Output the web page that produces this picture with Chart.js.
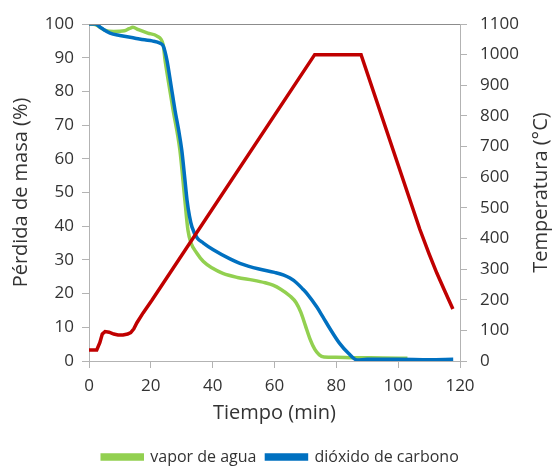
<!DOCTYPE html>
<html>
<head>
<meta charset="utf-8">
<script src="https://cdn.jsdelivr.net/npm/chart.js@4.4.0/dist/chart.umd.min.js"></script>
<style>
  html, body { margin: 0; padding: 0; background: #fff; }
  #wrap { width: 552px; height: 468px; }
</style>
</head>
<body>
<div id="wrap"><canvas id="chart" width="552" height="468"></canvas></div>
<script>
// vapor de agua (% masa)
const vaporTime = [0, 2, 5, 8, 11.5, 13, 14.2, 16, 19, 22, 24, 24.6, 25.5, 27.2, 29.4, 31, 32, 33, 34.9, 37, 40, 43.3, 48, 53, 57, 59.5, 62, 65, 67, 68.5, 70, 71.5, 73, 74.5, 76, 80, 85, 95, 103];
const vaporMass = [100, 99.8, 98.2, 97.8, 98, 98.6, 99, 98.3, 97.3, 96.4, 93.8, 89.3, 84, 74.5, 62.6, 47.8, 38.9, 35, 32, 29.5, 27.5, 26, 24.8, 24, 23.2, 22.5, 21.3, 19.3, 17.3, 14.5, 10.5, 6.5, 3.5, 1.8, 1.2, 1.1, 1, 0.9, 0.8];

// dióxido de carbono (% masa)
const co2Time = [0, 2, 4, 6.8, 10, 14.9, 18, 20.4, 23, 24, 25.2, 26.5, 27.8, 29, 30, 31, 31.7, 32.5, 33.3, 35, 37, 40.2, 45.6, 48.8, 55, 60, 63, 65, 67, 69.2, 70.5, 73.7, 75.7, 78, 81, 84, 86.7, 90, 100, 110, 117.8];
const co2Mass = [100, 100, 98.8, 97.3, 96.6, 95.8, 95.3, 95, 94.3, 93.5, 89.3, 82, 74.5, 68.5, 62.6, 54, 47.8, 43, 39.8, 36.5, 35, 33, 30.3, 29, 27.3, 26.3, 25.5, 24.6, 23.3, 21.3, 20, 16, 13, 9.5, 5.3, 2.2, 0.3, 0.5, 0.5, 0.4, 0.5];

// temperatura (°C)
const tempTime = [0, 2.5, 3.5, 4.3, 5.2, 6.5, 8, 9.4, 11, 12.5, 13.5, 14.5, 15.5, 17.5, 20.4, 73, 88, 104, 107, 110, 112.5, 115, 117.7];
const tempValue = [36, 36, 60, 88, 96, 94, 88, 85, 85, 88, 93, 105, 125, 157, 199, 1000, 1000, 520, 430, 350, 287, 230, 170];

const xTicks = [0, 20, 40, 60, 80, 100, 120];

const toPoints = (xs, ys) => xs.map((x, i) => ({ x: x, y: ys[i] }));

const font = 'Open Sans';
const textColor = '#333';
const axisColor = '#b3b3b3';
const rightTitle = 'Temperatura (°C)';

// linea superior del marco y titulo del eje derecho (leido de abajo hacia arriba)
const extras = {
  id: 'extras',
  afterDraw(chart) {
    const { ctx, chartArea } = chart;
    ctx.save();
    ctx.strokeStyle = '#8c8c8c';
    ctx.lineWidth = 1;
    ctx.beginPath();
    ctx.moveTo(chartArea.left, chartArea.top + 0.5);
    ctx.lineTo(chartArea.right, chartArea.top + 0.5);
    ctx.stroke();

    ctx.translate(541, (chartArea.top + chartArea.bottom) / 2);
    ctx.rotate(-Math.PI / 2);
    ctx.font = '20px "' + font + '"';
    ctx.fillStyle = textColor;
    ctx.textAlign = 'center';
    ctx.textBaseline = 'middle';
    ctx.fillText(rightTitle, 0, 0);
    ctx.restore();
  }
};

new Chart(document.getElementById('chart'), {
  type: 'line',
  data: {
    datasets: [
      {
        label: 'vapor de agua',
        data: toPoints(vaporTime, vaporMass),
        borderColor: '#92d050',
        backgroundColor: '#92d050',
        borderWidth: 3.5,
        pointRadius: 0,
        cubicInterpolationMode: 'monotone',
        yAxisID: 'y',
        order: 3
      },
      {
        label: 'dióxido de carbono',
        data: toPoints(co2Time, co2Mass),
        borderColor: '#0070c0',
        backgroundColor: '#0070c0',
        borderWidth: 3.5,
        pointRadius: 0,
        cubicInterpolationMode: 'monotone',
        yAxisID: 'y',
        order: 2
      },
      {
        label: 'Temperatura',
        data: toPoints(tempTime, tempValue),
        borderColor: '#c00000',
        backgroundColor: '#c00000',
        borderWidth: 3.5,
        pointRadius: 0,
        tension: 0,
        yAxisID: 'y1',
        order: 1
      }
    ]
  },
  options: {
    responsive: false,
    animation: false,
    layout: { padding: { left: 9, right: 0, top: 24, bottom: -7 } },
    plugins: {
      legend: {
        position: 'bottom',
        labels: {
          font: { family: font, size: 16 },
          color: textColor,
          boxWidth: 40,
          boxHeight: 4,
          padding: 10,
          filter: item => item.datasetIndex < 2,
          sort: (a, b) => a.datasetIndex - b.datasetIndex
        }
      },
      tooltip: { enabled: false }
    },
    scales: {
      x: {
        type: 'linear',
        min: 0,
        max: 120,
        afterBuildTicks: s => { s.ticks = xTicks.map(v => ({ value: v })); },
        afterFit: s => { s.height = 78; },
        grid: { drawOnChartArea: false, drawTicks: true, tickLength: 7, color: axisColor },
        border: { color: axisColor },
        ticks: { font: { family: font, size: 17 }, color: textColor, padding: 8, maxRotation: 0 },
        title: { display: true, text: 'Tiempo (min)', font: { family: font, size: 20 }, color: textColor, padding: { top: 0, bottom: 14 } }
      },
      y: {
        position: 'left',
        min: 0,
        max: 100,
        ticks: { stepSize: 10, font: { family: font, size: 17 }, color: textColor, padding: 8 },
        afterFit: s => { s.width = 80; },
        grid: { drawOnChartArea: false, drawTicks: true, tickLength: 7, color: axisColor },
        border: { color: axisColor },
        title: { display: true, text: 'Pérdida de masa (%)', font: { family: font, size: 20 }, color: textColor, padding: 0 }
      },
      y1: {
        position: 'right',
        min: 0,
        max: 1100,
        ticks: { stepSize: 100, font: { family: font, size: 17 }, color: textColor, padding: 13, callback: v => String(v) },
        afterFit: s => { s.width = 92; },
        grid: { drawOnChartArea: false, drawTicks: true, tickLength: 7, color: axisColor },
        border: { color: axisColor }
      }
    }
  },
  plugins: [extras]
});
</script>
</body>
</html>
